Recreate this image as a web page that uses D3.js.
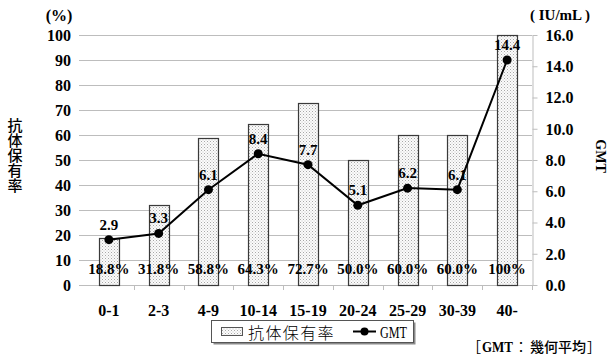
<!DOCTYPE html>
<html>
<head>
<meta charset="utf-8">
<script src="https://cdn.jsdelivr.net/npm/d3@7"></script>
<style>
  html, body { margin: 0; padding: 0; background: #fff; }
  svg { display: block; }
</style>
</head>
<body>
<svg id="chart" width="613" height="360"></svg>
<script>
// Age groups with antibody-positive rate (%) and geometric mean titre (IU/mL)
const categories = ["0-1", "2-3", "4-9", "10-14", "15-19", "20-24", "25-29", "30-39", "40-"];
const rateValues = [18.8, 31.8, 58.8, 64.3, 72.7, 50.0, 60.0, 60.0, 100];
const rateLabels = ["18.8%", "31.8%", "58.8%", "64.3%", "72.7%", "50.0%", "60.0%", "60.0%", "100%"];
const gmtValues = [2.9, 3.3, 6.1, 8.4, 7.7, 5.1, 6.2, 6.1, 14.4];
const leftTicks = [0, 10, 20, 30, 40, 50, 60, 70, 80, 90, 100];
const rightTicks = [0, 2, 4, 6, 8, 10, 12, 14, 16];

const svg = d3.select("#chart");
const serif = "'Liberation Serif', 'Times New Roman', serif";
const cjk = "'Noto Sans CJK JP', 'Noto Sans CJK SC', sans-serif";

const plot = { left: 84, right: 532, top: 35, bottom: 285, gridLeft: 79 };

const x = d3.scaleBand().domain(categories).range([plot.left, plot.right]).paddingInner(0).paddingOuter(0);
const yL = d3.scaleLinear().domain([0, 100]).range([plot.bottom, plot.top]);
const yR = d3.scaleLinear().domain([0, 16]).range([plot.bottom, plot.top]);

// dotted fill for the bars
const defs = svg.append("defs");
const pat = defs.append("pattern").attr("id", "dots").attr("patternUnits", "userSpaceOnUse")
  .attr("width", 3).attr("height", 3);
pat.append("rect").attr("width", 3).attr("height", 3).attr("fill", "#fbfbfb");
pat.append("rect").attr("x", 0).attr("y", 0).attr("width", 1).attr("height", 1).attr("fill", "#a8a8a8");
pat.append("rect").attr("x", 1.5).attr("y", 1.5).attr("width", 1).attr("height", 1).attr("fill", "#c4c4c4");

// horizontal gridlines
svg.append("g").selectAll("line").data(leftTicks).join("line")
  .attr("x1", plot.gridLeft).attr("x2", plot.right)
  .attr("y1", d => Math.round(yL(d)) + 0.5).attr("y2", d => Math.round(yL(d)) + 0.5)
  .attr("stroke", "#bdbdbd").attr("stroke-width", 1);

// left axis labels
const leftAxis = d3.axisLeft(yL).tickValues(leftTicks).tickSize(0).tickPadding(0);
const gL = svg.append("g").attr("transform", "translate(71,0)").call(leftAxis);
gL.select(".domain").remove();
gL.selectAll("text").attr("font-family", serif).attr("font-weight", "bold")
  .attr("font-size", 16).attr("fill", "#000").attr("dy", "0.34em");

// right axis
const rightAxis = d3.axisRight(yR).tickValues(rightTicks).tickFormat(d3.format(".1f")).tickSize(5).tickPadding(8).tickSizeOuter(0);
const gR = svg.append("g").attr("transform", `translate(${plot.right + 0.5},0)`).call(rightAxis);
gR.select(".domain").attr("stroke", "#bdbdbd");
gR.selectAll(".tick line").attr("stroke", "#bdbdbd");
gR.selectAll("text").attr("font-family", serif).attr("font-weight", "bold")
  .attr("font-size", 16).attr("fill", "#000").attr("dy", "0.34em");

// bottom category ticks
const bounds = categories.map(c => x(c) + x.bandwidth());
svg.append("g").selectAll("line").data(bounds).join("line")
  .attr("x1", d => Math.round(d) + 0.5).attr("x2", d => Math.round(d) + 0.5)
  .attr("y1", plot.bottom).attr("y2", plot.bottom + 5)
  .attr("stroke", "#bdbdbd");

// category labels
svg.append("g").selectAll("text").data(categories).join("text")
  .attr("x", d => x(d) + x.bandwidth() / 2).attr("y", 316)
  .attr("text-anchor", "middle").attr("font-family", serif).attr("font-weight", "bold")
  .attr("font-size", 16).text(d => d);

// bars
const barW = 20;
svg.append("g").selectAll("rect").data(rateValues).join("rect")
  .attr("x", (d, i) => Math.round(x(categories[i]) + x.bandwidth() / 2 - barW / 2) + 0.5)
  .attr("y", d => Math.round(yL(d)) + 0.5)
  .attr("width", barW)
  .attr("height", d => Math.round(yL(0)) - Math.round(yL(d)))
  .attr("fill", "url(#dots)").attr("stroke", "#3a3a3a").attr("stroke-width", 1.2);

// bar value labels
svg.append("g").selectAll("text").data(rateLabels).join("text")
  .attr("x", (d, i) => x(categories[i]) + x.bandwidth() / 2).attr("y", yL(0) - 11)
  .attr("text-anchor", "middle").attr("font-family", serif).attr("font-weight", "bold")
  .attr("font-size", 15).text(d => d);

// GMT line
const line = d3.line().x((d, i) => x(categories[i]) + x.bandwidth() / 2).y(d => yR(d));
svg.append("path").datum(gmtValues).attr("d", line)
  .attr("fill", "none").attr("stroke", "#000").attr("stroke-width", 2);
svg.append("g").selectAll("circle").data(gmtValues).join("circle")
  .attr("cx", (d, i) => x(categories[i]) + x.bandwidth() / 2).attr("cy", d => yR(d))
  .attr("r", 4.5).attr("fill", "#000");
svg.append("g").selectAll("text").data(gmtValues).join("text")
  .attr("x", (d, i) => x(categories[i]) + x.bandwidth() / 2).attr("y", d => yR(d) - 10)
  .attr("text-anchor", "middle").attr("font-family", serif).attr("font-weight", "bold")
  .attr("font-size", 15).text(d => d3.format(".1f")(d));

// axis unit labels
svg.append("text").attr("x", 59).attr("y", 21).attr("text-anchor", "middle")
  .attr("font-family", serif).attr("font-weight", "bold").attr("font-size", 16).text("(%)");
svg.append("text").attr("x", 560).attr("y", 20).attr("text-anchor", "middle")
  .attr("font-family", serif).attr("font-weight", "bold").attr("font-size", 15)
  .text("( IU/mL )");

// left axis title, set in vertical writing mode
svg.append("text").attr("x", 15).attr("y", 118)
  .style("writing-mode", "vertical-rl").style("text-orientation", "upright")
  .attr("font-family", cjk).attr("font-weight", 500).attr("font-size", 15)
  .text("抗体保有率");

// right axis title, rotated
svg.append("text").attr("transform", "translate(596,156) rotate(90)")
  .attr("text-anchor", "middle").attr("font-family", serif).attr("font-weight", "bold")
  .attr("font-size", 14).text("GMT");

// legend
const lg = svg.append("g");
lg.append("rect").attr("x", 213.5).attr("y", 322.5).attr("width", 202).attr("height", 22)
  .attr("fill", "#8a8a8a").attr("stroke", "none");
lg.append("rect").attr("x", 211.5).attr("y", 320.5).attr("width", 202).attr("height", 22)
  .attr("fill", "#fff").attr("stroke", "#555").attr("stroke-width", 1);
lg.append("rect").attr("x", 221.5).attr("y", 327.5).attr("width", 21).attr("height", 8)
  .attr("fill", "url(#dots)").attr("stroke", "#555").attr("stroke-width", 1);
lg.append("text").attr("x", 248).attr("y", 339).attr("font-family", cjk).attr("font-weight", 300)
  .attr("font-size", 16).attr("letter-spacing", 1.4).text("抗体保有率");
lg.append("line").attr("x1", 353).attr("x2", 376).attr("y1", 331.5).attr("y2", 331.5)
  .attr("stroke", "#000").attr("stroke-width", 2);
lg.append("circle").attr("cx", 364.5).attr("cy", 331.5).attr("r", 4).attr("fill", "#000");
lg.append("text").attr("x", 380).attr("y", 338).attr("font-family", serif)
  .attr("font-size", 16).attr("textLength", 27).attr("lengthAdjust", "spacingAndGlyphs").text("GMT");

// note
const note = svg.append("text").attr("y", 352).attr("font-size", 14);
note.append("tspan").attr("x", 467).attr("font-family", cjk).text("［");
note.append("tspan").attr("x", 482).attr("font-family", serif).attr("font-weight", "bold")
  .attr("textLength", 31).attr("lengthAdjust", "spacingAndGlyphs").text("GMT");
note.append("tspan").attr("x", 514).attr("font-family", cjk).text("：");
note.append("tspan").attr("x", 530).attr("font-family", cjk).attr("font-weight", 500).text("幾何平均");
note.append("tspan").attr("x", 587).attr("font-family", cjk).text("］");
</script>
</body>
</html>
